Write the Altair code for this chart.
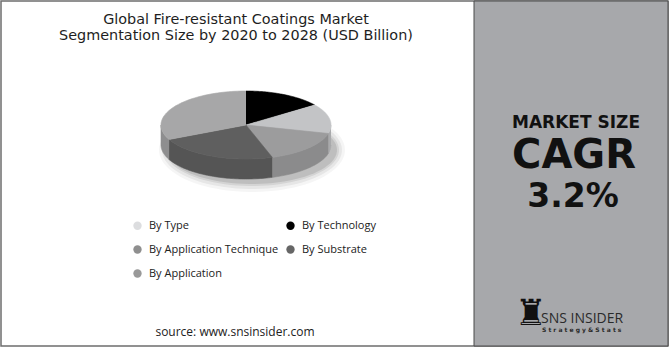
import altair as alt
import pandas as pd
import numpy as np

# ---- data ----
segments = ["By Type", "By Technology", "By Application Technique", "By Substrate", "By Application"]
legend_colors = ["#dcdddf", "#000000", "#8f8f8f", "#666666", "#999999"]
# pie slices, clockwise from 12 o'clock
pie_segments = ["By Technology", "By Type", "By Application Technique", "By Substrate", "By Application"]
pie_shares = [15, 14, 16, 23, 32]
top_colors = ["#000000", "#c3c4c6", "#9c9c9d", "#5f5f5f", "#a7a7a8"]
side_colors = ["#111111", "#a9aaac", "#8b8b8c", "#555555", "#8e8e8f"]

# ---- 3D pie geometry (style) ----
CX, CY, RX, RY, DEPTH = 246, 125, 85, 34, 20
N = 60


def pt(t, dy=0.0):
    r = np.radians(t)
    return CX + RX * np.sin(r), CY - RY * np.cos(r) + dy


total = float(sum(pie_shares))
cum = np.cumsum([0] + pie_shares) / total * 360.0

top_rows, side_rows = [], []
for k, seg in enumerate(pie_segments):
    t0, t1 = cum[k], cum[k + 1]
    i = 0
    top_rows.append(dict(seg=seg, i=i, x=CX, y=CY, col=top_colors[k]))
    for t in np.linspace(t0, t1, N):
        i += 1
        x, y = pt(t)
        top_rows.append(dict(seg=seg, i=i, x=x, y=y, col=top_colors[k]))
    a, b = max(t0, 90.0), min(t1, 270.0)
    if a < b:
        j = 0
        for t in np.linspace(a, b, N):
            x, y = pt(t)
            side_rows.append(dict(seg=seg, i=j, x=x, y=y, col=side_colors[k]))
            j += 1
        for t in np.linspace(b, a, N):
            x, y = pt(t, DEPTH)
            side_rows.append(dict(seg=seg, i=j, x=x, y=y, col=side_colors[k]))
            j += 1

shadow_rows = []
for s, (grow, op) in enumerate([(8, 0.04), (5, 0.06), (2, 0.08), (0, 0.1)]):
    for j, t in enumerate(np.linspace(0, 360, 90)):
        r = np.radians(t)
        shadow_rows.append(dict(seg=f"s{s}", i=j,
                                x=CX + 6 + (RX + grow) * np.sin(r),
                                y=CY + DEPTH + 5 - (RY + grow) * np.cos(r), op=op))

top_df = pd.DataFrame(top_rows)
side_df = pd.DataFrame(side_rows)
shadow_df = pd.DataFrame(shadow_rows)

# legend entries are laid out column by column: reorder so rows read as in the reference
legend_order = [segments[0], segments[2], segments[4], segments[1], segments[3]]
legend_cols = [legend_colors[segments.index(s)] for s in legend_order]
legend_df = pd.DataFrame({"segment": legend_order})

W, H = 670, 350
xs = alt.Scale(domain=[0, W])
ys = alt.Scale(domain=[0, H], reverse=True)
X = lambda: alt.X("x:Q", scale=xs, axis=None)
Y = lambda: alt.Y("y:Q", scale=ys, axis=None)

one = pd.DataFrame({"a": [0]})

frame = alt.Chart(one).mark_rect(fill="white", stroke="#6e6e6e", strokeWidth=1.5).encode(
    x=alt.value(1), x2=alt.value(668), y=alt.value(1), y2=alt.value(346))
panel = alt.Chart(one).mark_rect(fill="#a7a8ab", stroke="#4a4a4a", strokeWidth=1).encode(
    x=alt.value(474), x2=alt.value(668), y=alt.value(1), y2=alt.value(346))

shadow = alt.Chart(shadow_df).mark_line(strokeWidth=0, fill="#000").encode(
    x=X(), y=Y(), detail="seg:N", order="i:Q", opacity=alt.Opacity("op:Q", scale=None))

side = alt.Chart(side_df).mark_line(strokeWidth=0.6).encode(
    x=X(), y=Y(), detail="seg:N", order="i:Q",
    fill=alt.Fill("col:N", scale=None), stroke=alt.Stroke("col:N", scale=None))

top = alt.Chart(top_df).mark_line(strokeWidth=0.6).encode(
    x=X(), y=Y(), detail="seg:N", order="i:Q",
    fill=alt.Fill("col:N", scale=None), stroke=alt.Stroke("col:N", scale=None))

legend = alt.Chart(legend_df).mark_point(filled=True, opacity=0, size=1).encode(
    x=alt.value(-50), y=alt.value(-50),
    color=alt.Color("segment:N", scale=alt.Scale(domain=legend_order, range=legend_cols),
                    sort=legend_order,
                    legend=alt.Legend(title=None, orient="none", legendX=132, legendY=220,
                                      columns=2, columnPadding=6, rowPadding=12,
                                      symbolType="circle", symbolSize=70, symbolOpacity=1,
                                      symbolStrokeWidth=0, labelFont="Open Sans",
                                      labelFontSize=11, labelColor="#222222",
                                      labelOffset=6, labelLimit=300)))


def txt(text, x, y, size, weight="normal", font="Open Sans", color="#222222", align="center", **kw):
    return alt.Chart(one).mark_text(text=text, fontSize=size, fontWeight=weight, font=font,
                                    color=color, align=align, baseline="middle", **kw).encode(
        x=alt.value(x), y=alt.value(y))


texts = [
    txt(["Global Fire-resistant Coatings Market",
         "Segmentation Size by 2020 to 2028 (USD Billion)"], 236, 20, 14.4,
        "normal", "DejaVu Sans", "#1e1e1e", lineHeight=16),
    txt("source: www.snsinsider.com", 235, 332, 12),
    txt("MARKET SIZE", 576, 123, 17, "bold", "DejaVu Sans", "#111111"),
    txt("CAGR", 574, 156, 40, "bold", "DejaVu Sans", "#111111"),
    txt("3.2%", 573, 197, 33, "bold", "DejaVu Sans", "#111111"),
    txt("\u265c", 531, 314, 36, "normal", "DejaVu Sans", "#111111"),
    txt("SNS INSIDER", 541, 319, 14, "normal", "Open Sans", "#2a2a2a", align="left"),
    txt("S t r a t e g y   &   S t a t s", 542, 330, 6, "bold", "DejaVu Sans", "#2a2a2a",
        align="left"),
]

chart = alt.layer(frame, panel, shadow, side, top, legend, *texts).resolve_scale(
    color="independent", fill="independent", stroke="independent"
).properties(
    width=W, height=H, padding=0, autosize=alt.AutoSizeParams(type="none"),
    background="white"
).configure_view(stroke=None)

chart.save("out.html", embed_options={"renderer": "svg", "actions": False})
